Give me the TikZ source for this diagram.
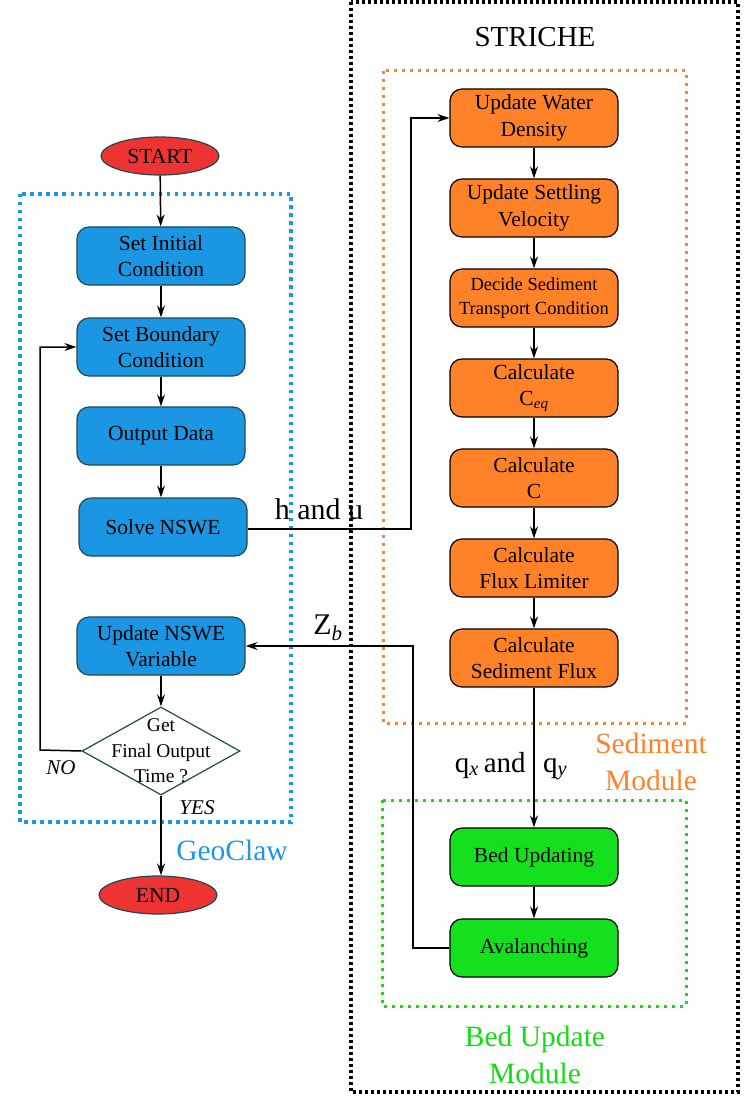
\documentclass[tikz,border=0pt]{standalone}
\usepackage{fontspec}
\setmainfont{Liberation Serif}
\usetikzlibrary{shapes.geometric,arrows.meta}
\definecolor{cblue}{HTML}{1A96E2}
\definecolor{cbluedot}{HTML}{1E96E6}
\definecolor{cborder}{HTML}{1F4A4F}
\definecolor{corange}{HTML}{FF8229}
\definecolor{cred}{HTML}{EE3333}
\definecolor{cgreen}{HTML}{14E01E}
\definecolor{cgreendot}{HTML}{14DC14}
\begin{document}
\begin{tikzpicture}[x=1pt,y=-1pt,
  boxbase/.style={rectangle, rounded corners=12pt, minimum width=168pt, minimum height=58pt,
    align=center, font=\fontsize{21.5}{26.5}\selectfont, line width=1.2pt, inner sep=2pt},
  bluebox/.style={boxbase, fill=cblue, draw=cborder},
  orangebox/.style={boxbase, fill=corange, draw=black},
  greenbox/.style={boxbase, fill=cgreen, draw=black},
  term/.style={ellipse, fill=cred, draw=cborder, line width=1.2pt, minimum width=118pt,
    minimum height=38pt, inner sep=0pt, font=\fontsize{21.5}{26}\selectfont},
  decision/.style={diamond, draw=cborder, fill=white, line width=1.2pt, minimum width=158pt,
    minimum height=88pt, inner sep=0pt},
  arr/.style={-{Stealth[length=12pt,width=8pt,inset=4pt]}, line width=1.5pt},
  biglabel/.style={font=\fontsize{29.5}{37}\selectfont, align=center, inner sep=0pt},
  frameblue/.style={draw=cbluedot, line width=3.5pt, dash pattern=on 3.5pt off 4.5pt},
  frameorange/.style={draw=corange, line width=3pt, dash pattern=on 3pt off 5pt},
  framegreen/.style={draw=cgreendot, line width=3pt, dash pattern=on 3pt off 5pt},
  frameblack/.style={draw=black, line width=3.5pt, dash pattern=on 3pt off 3pt},
]
\useasboundingbox (0,0) rectangle (745,1099);

% frames
\draw[frameblack] (351,2) rectangle (738,1092);
\draw[frameblue] (20,194) rectangle (291,822);
\draw[frameorange] (383,71) rectangle (686,723);
\draw[framegreen] (382,800) rectangle (686,1006);

% GeoClaw column
\node[term] (start) at (160,156) {START};
\node[bluebox] (sic) at (161,256) {Set Initial\\Condition};
\node[bluebox] (sbc) at (161,347) {Set Boundary\\Condition};
\node[bluebox] (od) at (161,436) {Output Data};
\node[bluebox] (snswe) at (163,527) {Solve NSWE};
\node[bluebox] (unv) at (161,646) {Update NSWE\\Variable};
\node[decision, label={[align=center, font=\fontsize{19.5}{25.5}\selectfont]center:Get\\Final Output\\Time ?}] (dec) at (161,751) {};
\node[term] (end) at (158,895) {END};

% STRICHE column
\node[orangebox] (uwd) at (534,118) {Update Water\\Density};
\node[orangebox] (usv) at (534,208) {Update Settling\\Velocity};
\node[orangebox, font=\fontsize{18.5}{24.5}\selectfont] (dstc) at (534,298) {Decide Sediment\\Transport Condition};
\node[orangebox] (ceq) at (534,388) {Calculate\\C\textsubscript{\textit{eq}}};
\node[orangebox] (cc) at (534,478) {Calculate\\C};
\node[orangebox] (cfl) at (534,568) {Calculate\\Flux Limiter};
\node[orangebox] (csf) at (534,658) {Calculate\\Sediment Flux};
\node[greenbox] (bed) at (534,857) {Bed Updating};
\node[greenbox] (aval) at (534,948) {Avalanching};

% labels
\node[font=\fontsize{29}{34}\selectfont, inner sep=0pt] (striche) at (535,37) {STRICHE};
\node[biglabel, text=cbluedot] (geoclaw) at (232,850) {GeoClaw};
\node[biglabel, text=corange] (sedmod) at (651,762) {Sediment\\Module};
\node[biglabel, text=cgreendot] (bedmod) at (535,1055) {Bed Update\\Module};
\node[font=\fontsize{21}{25}\selectfont\itshape, inner sep=0pt] (nolab) at (61,768) {NO};
\node[font=\fontsize{21}{25}\selectfont\itshape, inner sep=0pt] (yeslab) at (197,808) {YES};
\node[font=\fontsize{30}{36}\selectfont, inner sep=0pt] (hulab) at (319,509) {h and u};
\node[font=\fontsize{30}{36}\selectfont, inner sep=0pt] (zblab) at (328,628) {Z\textsubscript{\textit{b}}};
\node[font=\fontsize{29}{36}\selectfont, inner sep=0pt] (qlab) at (511,766) {q\textsubscript{\textit{x}}\,and\hspace{0.6em}q\textsubscript{\textit{y}}};

% connectors
\coordinate (loopx) at (40,750);
\coordinate (hux) at (411,529);
\coordinate (zbx) at (413,948);
\draw[arr] (start) -- (sic);
\draw[arr] (sic) -- (sbc);
\draw[arr] (sbc) -- (od);
\draw[arr] (od.south) -- (od.south |- snswe.north);
\draw[arr] (unv) -- (dec.north -| unv.south);
\draw[arr] (dec.south) -- (dec.south |- end.north);
\draw[arr] (dec.west) -- (loopx) |- (sbc.west);
\draw[arr] (snswe.east |- hux) -- (hux) |- (uwd.west);
\draw[arr] (aval.west) -- (zbx) |- (unv.east);
\draw[arr] (uwd) -- (usv);
\draw[arr] (usv) -- (dstc);
\draw[arr] (dstc) -- (ceq);
\draw[arr] (ceq) -- (cc);
\draw[arr] (cc) -- (cfl);
\draw[arr] (cfl) -- (csf);
\draw[arr] (csf) -- (bed);
\draw[arr] (bed) -- (aval);
\end{tikzpicture}
\end{document}
